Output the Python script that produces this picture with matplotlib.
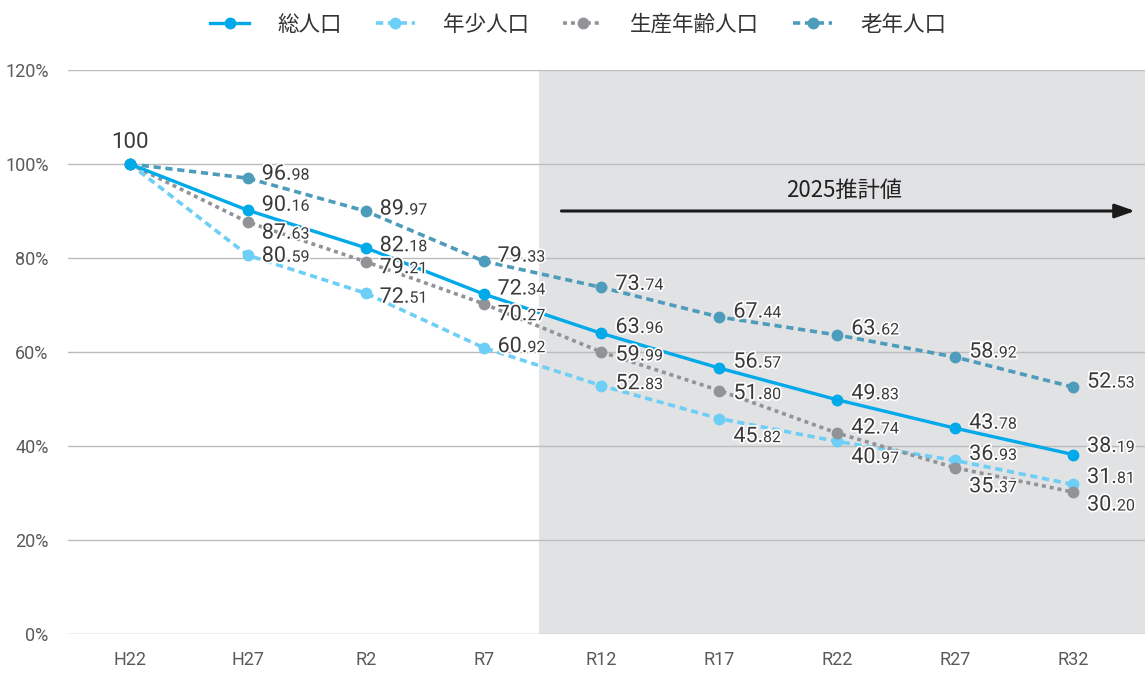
import matplotlib
matplotlib.use("Agg")
import matplotlib.pyplot as plt
import matplotlib.patheffects as pe
from matplotlib.offsetbox import TextArea, HPacker, AnnotationBbox

categories = ["H22", "H27", "R2", "R7", "R12", "R17", "R22", "R27", "R32"]
total = [100, 90.16, 82.18, 72.34, 63.96, 56.57, 49.83, 43.78, 38.19]
young = [100, 80.59, 72.51, 60.92, 52.83, 45.82, 40.97, 36.93, 31.81]
working = [100, 87.63, 79.21, 70.27, 59.99, 51.80, 42.74, 35.37, 30.20]
elderly = [100, 96.98, 89.97, 79.33, 73.74, 67.44, 63.62, 58.92, 52.53]
series_names = ["総人口", "年少人口", "生産年齢人口", "老年人口"]
yticks = [0, 20, 40, 60, 80, 100, 120]
ytick_labels = ["0%", "20%", "40%", "60%", "80%", "100%", "120%"]
forecast_label = "2025推計値"

# label vertical offsets (pixels, positive = up) per series, from H27 onwards
off_total = [5, 2, 5, 6, 6, 6, 5, 8]
off_young = [-1, -4, 1, 2, -18, -16, 6, 7]
off_working = [-11, -6, -11, -3, -3, 5, -19, -13]
off_elderly = [4, 2, 5, 3, 5, 6, 5, 5]

C_TOTAL = "#00a9e8"
C_YOUNG = "#6dcff6"
C_WORK = "#929396"
C_OLD = "#4e9cbb"

NUM_FONT = ["Roboto", "DejaVu Sans"]
JP_FONT = ["Noto Sans CJK JP", "DejaVu Sans"]
LABEL_COLOR = "#3a3a3a"

fig = plt.figure(figsize=(11.45, 6.75), dpi=100)
ax = fig.add_axes([68 / 1145, 1 - 634 / 675, 1 - 68 / 1145, (634 - 70) / 675])

x = list(range(len(categories)))
ax.set_xlim(-0.525, 8.61)
ax.set_ylim(0, 120)

ax.axvspan(3.466, 8.61, color="#e1e2e4", zorder=0, lw=0)

for yv in yticks:
    ax.axhline(yv, color="#bcbcbc", lw=1.0, zorder=1)

ms = 7.5
l_young, = ax.plot(x, young, color=C_YOUNG, lw=2.6, ls=(0, (2.0, 1.3)), marker="o",
                   ms=ms, zorder=3, label=series_names[1])
l_work, = ax.plot(x, working, color=C_WORK, lw=2.6, ls=(0, (1.1, 1.1)), marker="o",
                  ms=ms, zorder=3, label=series_names[2])
l_old, = ax.plot(x, elderly, color=C_OLD, lw=2.6, ls=(0, (2.0, 1.3)), marker="o",
                 ms=ms, zorder=3, label=series_names[3])
l_total, = ax.plot(x, total, color=C_TOTAL, lw=2.4, ls="-", marker="o",
                   ms=ms, zorder=4, label=series_names[0])

stroke = [pe.withStroke(linewidth=2.5, foreground="white")]


def add_label(xi, val, dy):
    s = f"{val:.2f}"
    ip, dp = s.split(".")
    t1 = TextArea(ip + ".", textprops=dict(fontsize=15.5, family=NUM_FONT,
                                           color=LABEL_COLOR, path_effects=stroke))
    t2 = TextArea(dp, textprops=dict(fontsize=11.5, family=NUM_FONT,
                                     color=LABEL_COLOR, path_effects=stroke))
    box = HPacker(children=[t1, t2], align="baseline", pad=0, sep=0)
    ab = AnnotationBbox(box, (xi, val), xybox=(14, dy), xycoords="data",
                        boxcoords="offset pixels", box_alignment=(0, 0.5),
                        frameon=False, pad=0, zorder=6)
    ax.add_artist(ab)


for vals, offs in [(total, off_total), (young, off_young), (working, off_working), (elderly, off_elderly)]:
    for i in range(1, len(vals)):
        add_label(x[i], vals[i], offs[i - 1])

ax.annotate(f"{total[0]:.0f}", (x[0], total[0]), xytext=(0, 22), textcoords="offset pixels",
            ha="center", va="center", fontsize=16, family=NUM_FONT,
            color=LABEL_COLOR, zorder=6)

# forecast arrow
ax.annotate("", xy=(8.525, 90), xytext=(3.66, 90),
            arrowprops=dict(arrowstyle="-|>,head_length=1.2,head_width=0.42", color="#1a1a1a",
                            lw=2.2, shrinkA=0, shrinkB=0),
            zorder=5)
ax.text(6.06, 94.3, forecast_label, ha="center", va="center", fontsize=16,
        family=JP_FONT, color="#222222", zorder=5)

ax.set_xticks(x)
ax.set_xticklabels(categories, family=NUM_FONT, fontsize=13, color="#5a5a5a")
ax.set_yticks(yticks)
ax.set_yticklabels(ytick_labels, family=NUM_FONT, fontsize=13, color="#5a5a5a")
ax.tick_params(axis="both", length=0)
ax.tick_params(axis="x", pad=12)
ax.tick_params(axis="y", pad=14)
for sp in ax.spines.values():
    sp.set_visible(False)

leg = fig.legend(handles=[l_total, l_young, l_work, l_old], loc="center",
                 bbox_to_anchor=(0.505, 1 - 25 / 675), ncol=4, frameon=False,
                 prop=dict(family=JP_FONT, size=15.5), handlelength=1.8,
                 columnspacing=1.6, handletextpad=1.3)
for t in leg.get_texts():
    t.set_color("#333333")

fig.savefig("out.png", dpi=100)
